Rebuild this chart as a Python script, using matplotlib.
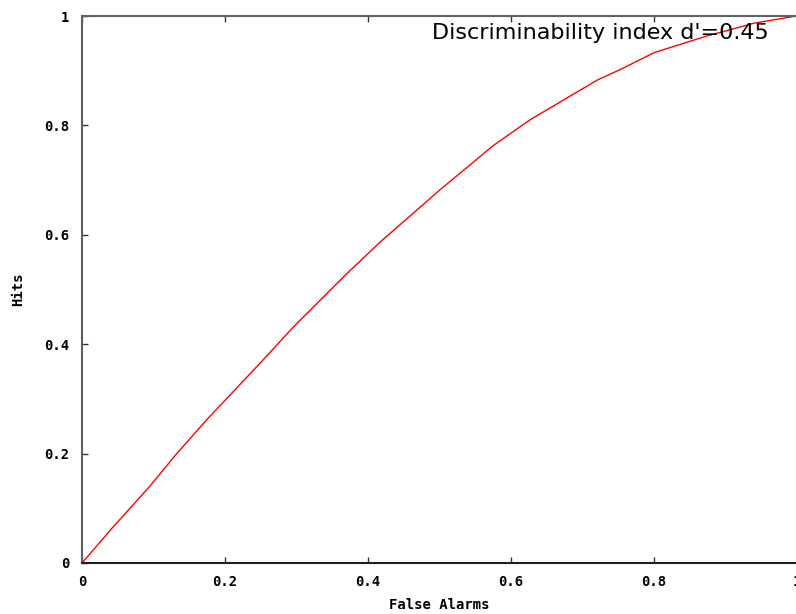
import matplotlib

matplotlib.use("Agg")
import matplotlib.pyplot as plt

# ROC curve
false_alarms = [0.0, 0.0439, 0.0953, 0.132, 0.1747, 0.2494, 0.2962,
                0.3686, 0.42, 0.4527, 0.5017, 0.5765, 0.628, 0.7213, 0.754,
                0.8007, 0.8708, 0.941, 1.0]
hits = [0.0, 0.0664, 0.1408, 0.199, 0.262, 0.3656, 0.432,
        0.5265, 0.590, 0.627, 0.683, 0.764, 0.811, 0.883, 0.9025,
        0.933, 0.962, 0.987, 1.0]

x_ticks = [0, 0.2, 0.4, 0.6, 0.8, 1.0]
x_tick_labels = ["0", "0.2", "0.4", "0.6", "0.8", "1"]
y_ticks = [0, 0.2, 0.4, 0.6, 0.8, 1.0]
y_tick_labels = ["0", "0.2", "0.4", "0.6", "0.8", "1"]

annotation = "Discriminability index d'=0.45"

W, H = 796, 614
fig = plt.figure(figsize=(W / 100, H / 100), dpi=100)
ax = fig.add_axes([82 / W, (H - 563) / H, (796.5 - 82) / W, 547 / H])

ax.plot(false_alarms, hits, color="red", linewidth=1.0)

ax.set_xlim(0, 1)
ax.set_ylim(0, 1)

mono = {"family": "DejaVu Sans Mono", "weight": "bold", "size": 10}
ax.set_xticks(x_ticks)
ax.set_xticklabels(x_tick_labels, fontdict=mono)
ax.set_yticks(y_ticks)
ax.set_yticklabels(y_tick_labels, fontdict=mono)
ax.tick_params(direction="in", top=True, right=False, length=4, width=1,
               color="#333333", pad=9)

for side in ["left", "top"]:
    ax.spines[side].set_color("#606060")
    ax.spines[side].set_linewidth(1.5)
ax.spines["bottom"].set_color("#202020")
ax.spines["bottom"].set_linewidth(1.5)
ax.spines["right"].set_visible(False)

ax.set_xlabel("False Alarms", fontdict=mono, labelpad=6)
ax.set_ylabel("Hits", fontdict=mono, labelpad=14)

fig.text(432 / W, 1 - 39 / H, annotation, fontsize=16, color="black",
         ha="left", va="baseline")

fig.savefig("out.png", dpi=100)
plt.close(fig)
